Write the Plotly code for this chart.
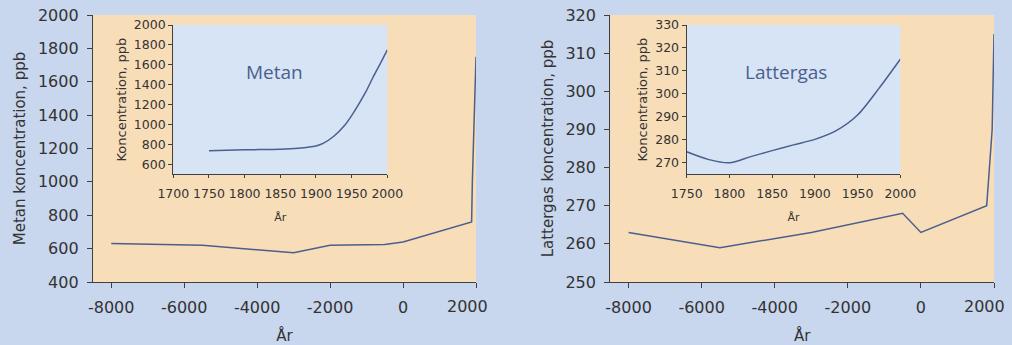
import plotly.graph_objects as go

# ---------------- data ----------------
metan_years = [-8000, -5500, -3000, -2000, -500, 0, 1880, 1900, 2000]
metan_ppb = [630, 620, 575, 620, 625, 640, 760, 1000, 1750]

lattergas_years = [-8000, -5500, -3000, -500, 0, 1800, 1950, 2000]
lattergas_ppb = [263, 259, 263, 268, 263, 270, 290, 315]

metan_inset_years = [1750, 1800, 1850, 1875, 1900, 1910, 1925, 1940, 1950, 1960, 1970, 1980, 1990, 2000]
metan_inset_ppb = [737, 746, 752, 762, 785, 810, 882, 990, 1090, 1205, 1330, 1475, 1610, 1750]

lattergas_inset_years = [1750, 1775, 1800, 1825, 1850, 1875, 1900, 1925, 1950, 1975, 2000]
lattergas_inset_ppb = [274.8, 271.5, 270.0, 272.7, 275.3, 277.8, 280.2, 284.0, 290.8, 302.4, 315.1]

main_xticks = [-8000, -6000, -4000, -2000, 0, 2000]
main_xticklabels = ["-8000", "-6000", "-4000", "-2000", "0", "2000"]
metan_yticks = [400, 600, 800, 1000, 1200, 1400, 1600, 1800, 2000]
lattergas_yticks = [250, 260, 270, 280, 290, 300, 310, 320]
metan_inset_xticks = [1700, 1750, 1800, 1850, 1900, 1950, 2000]
metan_inset_yticks = [600, 800, 1000, 1200, 1400, 1600, 1800, 2000]
lattergas_inset_xticks = [1750, 1800, 1850, 1900, 1950, 2000]
lattergas_inset_yticks = [270, 280, 290, 300, 310, 320, 330]

# ---------------- style ----------------
W, H = 1012, 345
PAPER = "#c8d6ee"
ORANGE = "#f8ddb9"
INSET = "#d7e4f5"
LINE = "#4b5f8e"
TXT = "#333333"
AX = "#404040"
FONT = "DejaVu Sans"

# last main x tick label is drawn shifted left (as in the original), via annotation
main_ticktext = main_xticklabels[:-1] + [""]


def xd(a, b):
    return [a / W, b / W]


def yd(top, bottom):
    return [(H - bottom) / H, (H - top) / H]


fig = go.Figure()
fig.add_trace(go.Scatter(x=metan_years, y=metan_ppb, mode="lines",
                         line=dict(color=LINE, width=1.5), xaxis="x", yaxis="y",
                         showlegend=False))
fig.add_trace(go.Scatter(x=lattergas_years, y=lattergas_ppb, mode="lines",
                         line=dict(color=LINE, width=1.5), xaxis="x2", yaxis="y2",
                         showlegend=False))
fig.add_trace(go.Scatter(x=metan_inset_years, y=metan_inset_ppb, mode="lines",
                         line=dict(color=LINE, width=1.5, shape="spline", smoothing=0.8),
                         xaxis="x3", yaxis="y3", showlegend=False))
fig.add_trace(go.Scatter(x=lattergas_inset_years, y=lattergas_inset_ppb, mode="lines",
                         line=dict(color=LINE, width=1.5, shape="spline", smoothing=0.8),
                         xaxis="x4", yaxis="y4", showlegend=False))

main_top, main_bot = 15, 282
ins_top, ins_bot = 25, 174.3


def axis(domain, rng, anchor, tickvals=None, ticktext=None, size=16, title=None,
         tsize=15, standoff=None, ticklen=5, tlstand=0):
    d = dict(domain=domain, range=rng, anchor=anchor, showgrid=False, zeroline=False,
             showline=True, linecolor=AX, linewidth=1.3, ticks="outside",
             ticklen=ticklen, tickcolor=AX, tickwidth=1.3, automargin=False,
             ticklabeloverflow="allow",
             tickfont=dict(family=FONT, size=size, color=TXT),
             tickvals=tickvals, fixedrange=True, ticklabelstandoff=tlstand)
    if ticktext is not None:
        d["ticktext"] = ticktext
    if title is not None:
        d["title"] = dict(text=title, font=dict(family=FONT, size=tsize, color=TXT))
        if standoff is not None:
            d["title"]["standoff"] = standoff
    return d


label_font = dict(family=FONT, size=16, color=TXT)

fig.update_layout(
    width=W, height=H, autosize=False,
    margin=dict(l=0, r=0, t=0, b=0, autoexpand=False),
    paper_bgcolor=PAPER, plot_bgcolor="rgba(0,0,0,0)",
    xaxis=axis(xd(93, 476), [-8500, 2000], "y", main_xticks, main_ticktext,
               title="År", tlstand=6, standoff=14),
    yaxis=axis(yd(main_top, main_bot), [400, 2000], "x", metan_yticks,
               title="Metan koncentration, ppb", tlstand=5, standoff=8),
    xaxis2=axis(xd(610.3, 994), [-8500, 2000], "y2", main_xticks, main_ticktext,
                title="År", tlstand=6, standoff=14),
    yaxis2=axis(yd(main_top, main_bot), [250, 320], "x2", lattergas_yticks,
                title="Lattergas koncentration, ppb", tlstand=5, standoff=8),
    xaxis3=axis(xd(173.3, 387.3), [1700, 2000], "y3", metan_inset_xticks, size=12.5,
                title="År", tsize=11, ticklen=3, tlstand=5, standoff=12),
    yaxis3=axis(yd(ins_top, ins_bot), [500, 2000], "x3", metan_inset_yticks, size=12.5,
                title="Koncentration, ppb", tsize=13, ticklen=4, standoff=4),
    xaxis4=axis(xd(686.7, 900.3), [1750, 2000], "y4", lattergas_inset_xticks, size=12.5,
                title="År", tsize=11, ticklen=3, tlstand=5, standoff=12),
    yaxis4=axis(yd(ins_top, ins_bot), [265, 330], "x4", lattergas_inset_yticks, size=12.5,
                title="Koncentration, ppb", tsize=13, ticklen=4, standoff=4),
    shapes=[
        dict(type="rect", xref="x domain", yref="y domain", x0=0, x1=1, y0=0, y1=1,
             fillcolor=ORANGE, line=dict(width=0), layer="below"),
        dict(type="rect", xref="x2 domain", yref="y2 domain", x0=0, x1=1, y0=0, y1=1,
             fillcolor=ORANGE, line=dict(width=0), layer="below"),
        dict(type="rect", xref="paper", yref="paper",
             x0=173.3 / W, x1=387.3 / W, y0=(H - ins_bot) / H, y1=(H - ins_top) / H,
             fillcolor=INSET, line=dict(width=0), layer="below"),
        dict(type="rect", xref="paper", yref="paper",
             x0=686.7 / W, x1=900.3 / W, y0=(H - ins_bot) / H, y1=(H - ins_top) / H,
             fillcolor=INSET, line=dict(width=0), layer="below"),
    ],
    annotations=[
        dict(text="Metan", xref="paper", yref="paper", x=274 / W, y=(H - 72) / H,
             xanchor="center", yanchor="middle",
             showarrow=False, font=dict(family="Open Sans", size=19, color="#4b5f8e")),
        dict(text="Lattergas", xref="paper", yref="paper", x=786 / W, y=(H - 72) / H,
             xanchor="center", yanchor="middle",
             showarrow=False, font=dict(family="Open Sans", size=19, color="#4b5f8e")),
        dict(text=main_xticklabels[-1], xref="x", yref="paper", x=main_xticks[-1],
             y=(H - 306.5) / H, xanchor="center", yanchor="middle", xshift=-9,
             showarrow=False, font=label_font),
        dict(text=main_xticklabels[-1], xref="x2", yref="paper", x=main_xticks[-1],
             y=(H - 306.5) / H, xanchor="center", yanchor="middle", xshift=-10,
             showarrow=False, font=label_font),
    ],
)

fig.write_html("out.html", config={"displayModeBar": False},
               post_script="document.body.style.margin='0';")
